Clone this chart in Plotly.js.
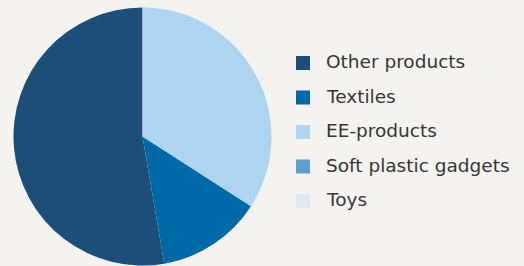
<!DOCTYPE html>
<html>
<head>
<meta charset="utf-8">
<script src="https://cdn.plot.ly/plotly-3.0.1.min.js"></script>
<style>
  html, body { margin: 0; padding: 0; background: #f4f3ef; }
  #chart { width: 524px; height: 266px; }
</style>
</head>
<body>
<div id="chart"></div>
<script>
const labels = ["Other products", "Textiles", "EE-products", "Soft plastic gadgets", "Toys"];
const values = [52.7, 13.2, 34.1, 0, 0];
const colors = ["#1d4e79", "#006aa8", "#aed4ef", "#5ba0c8", "#dde9f4"];

const W = 524, H = 266;
const legendX = 296, legendTextX = 325, legendY0 = 63, legendStep = 34.5, sq = 14;

const shapes = [];
const annotations = [];
labels.forEach((lab, i) => {
  const cy = legendY0 + i * legendStep;
  shapes.push({
    type: "rect", xref: "paper", yref: "paper",
    x0: legendX / W, x1: (legendX + sq) / W,
    y0: (H - (cy + sq / 2)) / H, y1: (H - (cy - sq / 2)) / H,
    fillcolor: colors[i], line: { width: 0 }
  });
  annotations.push({
    xref: "paper", yref: "paper",
    x: legendTextX / W, y: (H - cy + 1.5) / H,
    xanchor: "left", yanchor: "middle",
    text: lab, showarrow: false, borderpad: 0,
    font: { family: "'DejaVu Sans', sans-serif", size: 18.5, color: "#363636" }
  });
});

const total = values.reduce((a, b) => a + b, 0);
// counterclockwise: first slice ends at the rotation angle; put its start at 12 o'clock
const rotation = 360 - 360 * values[0] / total;

const trace = {
  type: "pie",
  labels: labels,
  values: values,
  sort: false,
  direction: "counterclockwise",
  rotation: rotation,
  textinfo: "none",
  hoverinfo: "none",
  marker: { colors: colors, line: { width: 0 } },
  domain: { x: [13.5 / W, 271.5 / W], y: [(H - 265.5) / H, (H - 7.5) / H] },
  showlegend: false
};

Plotly.newPlot("chart", [trace], {
  width: W, height: H,
  margin: { l: 0, r: 0, t: 0, b: 0, pad: 0 },
  paper_bgcolor: "#f4f3ef",
  plot_bgcolor: "#f4f3ef",
  showlegend: false,
  shapes: shapes,
  annotations: annotations
}, { displayModeBar: false, staticPlot: true });
</script>
</body>
</html>
